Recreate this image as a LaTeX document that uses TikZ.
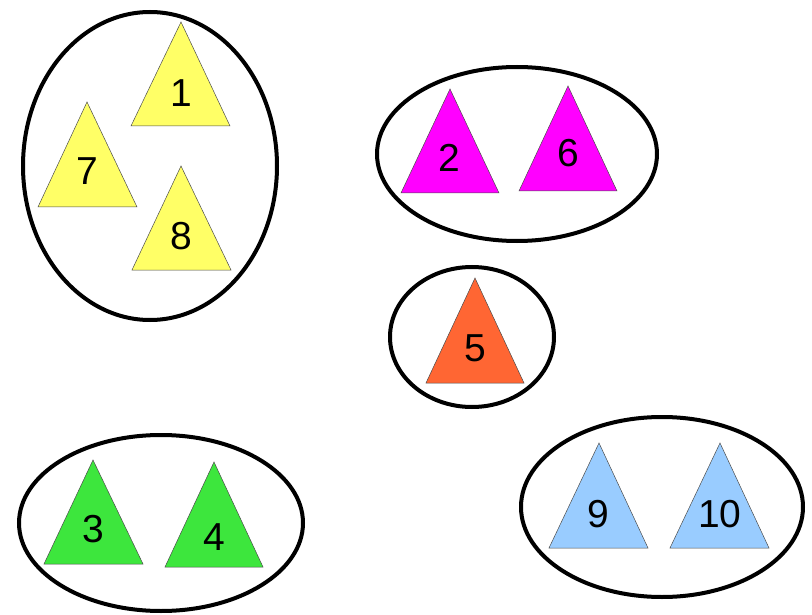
\documentclass[tikz,border=0pt]{standalone}
\usepackage{fontspec}
\setmainfont{Liberation Sans}
\definecolor{cyel}{HTML}{FFFF66}
\definecolor{cmag}{HTML}{FF00FF}
\definecolor{corg}{HTML}{FF6633}
\definecolor{cgrn}{HTML}{3DE63D}
\definecolor{cblu}{HTML}{99CCFF}
\tikzset{
  group/.style={draw=black, line width=4pt},
  tri/.style={draw=black!70, line width=0.5pt},
  num/.style={font=\fontsize{39}{39}\selectfont, inner sep=0pt}
}
\begin{document}
\begin{tikzpicture}[x=1pt,y=-1pt]
\useasboundingbox (0,0) rectangle (812,615);
% groups
\draw[group] (150,166) ellipse [x radius=127, y radius=154];
\draw[group] (517,154) ellipse [x radius=140, y radius=87];
\draw[group] (472,337) ellipse [x radius=82, y radius=70];
\draw[group] (161,523) ellipse [x radius=142, y radius=88];
\draw[group] (662,507) ellipse [x radius=141, y radius=90];
% yellow
\filldraw[tri, fill=cyel] (181,22) -- (230,126) -- (131,126) -- cycle;
\node[num] (n1) at (181,93) {1};
\filldraw[tri, fill=cyel] (87,102) -- (137,207) -- (38,207) -- cycle;
\node[num] (n7) at (87,171) {7};
\filldraw[tri, fill=cyel] (181,166) -- (231,270) -- (132,270) -- cycle;
\node[num] (n8) at (181,236) {8};
% magenta
\filldraw[tri, fill=cmag] (450,89) -- (499,193) -- (401,193) -- cycle;
\node[num] (n2) at (449,158) {2};
\filldraw[tri, fill=cmag] (568,86) -- (617,191) -- (519,191) -- cycle;
\node[num] (n6) at (568,153) {6};
% orange
\filldraw[tri, fill=corg] (475,278) -- (524,383) -- (426,383) -- cycle;
\node[num] (n5) at (475,348) {5};
% green
\filldraw[tri, fill=cgrn] (93,460) -- (143,564) -- (44,564) -- cycle;
\node[num] (n3) at (93,529) {3};
\filldraw[tri, fill=cgrn] (214,462) -- (263,567) -- (165,567) -- cycle;
\node[num] (n4) at (214,537) {4};
% blue
\filldraw[tri, fill=cblu] (599,443) -- (648,548) -- (549,548) -- cycle;
\node[num] (n9) at (598,514) {9};
\filldraw[tri, fill=cblu] (720,443) -- (769,548) -- (670,548) -- cycle;
\node[num] (n10) at (720,514) {10};
\end{tikzpicture}
\end{document}
